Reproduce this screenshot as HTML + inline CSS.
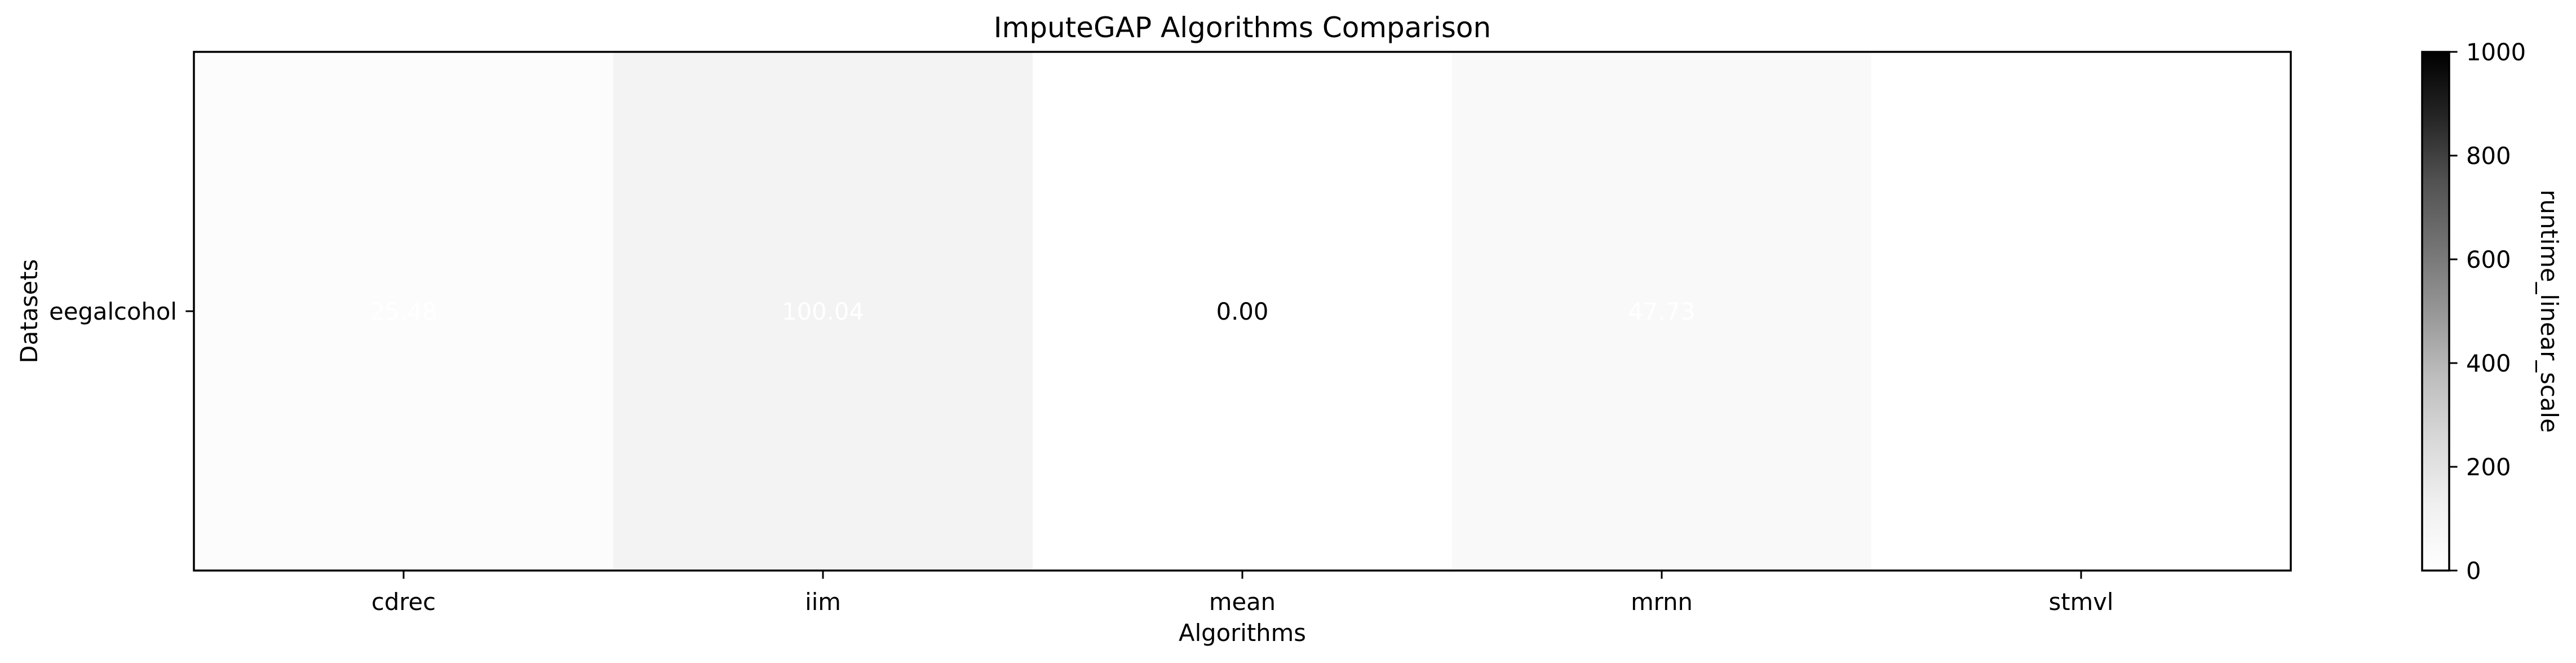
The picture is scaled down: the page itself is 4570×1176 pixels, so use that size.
<!DOCTYPE html>
<html><head><meta charset="utf-8"><style>
html,body{margin:0;padding:0;background:#fff;}
svg{display:block;font-family:"DejaVu Sans","Liberation Sans",sans-serif;}
</style></head><body>
<svg id="chart" width="4570" height="1176" viewBox="0 0 4570 1176" xmlns="http://www.w3.org/2000/svg">
<defs>
<linearGradient id="greys" x1="0" y1="1" x2="0" y2="0">
<stop offset="0" stop-color="#ffffff"/><stop offset="0.125" stop-color="#f0f0f0"/><stop offset="0.25" stop-color="#d9d9d9"/><stop offset="0.375" stop-color="#bdbdbd"/><stop offset="0.5" stop-color="#969696"/><stop offset="0.625" stop-color="#737373"/><stop offset="0.75" stop-color="#525252"/><stop offset="0.875" stop-color="#252525"/><stop offset="1" stop-color="#000000"/>
</linearGradient>
</defs>
<text x="2204" y="66" font-size="50" text-anchor="middle">ImputeGAP Algorithms Comparison</text>
<g id="cells"></g>
<g id="xticks"></g>
<g id="yticks"></g>
<rect x="344" y="92" width="3720" height="920" fill="none" stroke="#000" stroke-width="3.5"/>
<text x="2204" y="1137" font-size="41.7" text-anchor="middle">Algorithms</text>
<text transform="translate(66,552) rotate(-90)" font-size="41.7" text-anchor="middle">Datasets</text>
<rect x="4297" y="92" width="48" height="920" fill="url(#greys)" stroke="#000" stroke-width="3.5"/>
<g id="cbticks"></g>
<text transform="translate(4508,552) rotate(90)" font-size="41.7" text-anchor="middle">runtime_linear_scale</text>
</svg>
<script>
const algorithms = ["cdrec","iim","mean","mrnn","stmvl"];
const datasets = ["eegalcohol"];
const runtimes = [25.48, 100.04, 0.00, 47.73, null];
const cbTicks = [0,200,400,600,800,1000];
const vmin = 0, vmax = 1000;

const X0 = 344, X1 = 4064, Y0 = 92, Y1 = 1012;
const svgNS = "http://www.w3.org/2000/svg";
const colW = (X1 - X0) / algorithms.length;
const rowH = (Y1 - Y0) / datasets.length;
function xPos(i){ return X0 + i * colW; }
function yPos(j){ return Y0 + j * rowH; }
function cbY(v){ return Y1 - (v - vmin) / (vmax - vmin) * (Y1 - Y0); }
const stops = [255,240,217,189,150,115,82,37,0];
function grey(v){
  const t = Math.max(0, Math.min(1, (v - vmin) / (vmax - vmin))) * 8;
  const i = Math.min(7, Math.floor(t)), f = t - i;
  const g = Math.round(stops[i] + (stops[i+1] - stops[i]) * f);
  return "rgb(" + g + "," + g + "," + g + ")";
}
function mk(tag, attrs, parent){
  const el = document.createElementNS(svgNS, tag);
  for (const k in attrs) el.setAttribute(k, attrs[k]);
  parent.appendChild(el);
  return el;
}
const cells = document.getElementById("cells");
datasets.forEach((d, j) => {
  runtimes.forEach((v, i) => {
    const r = mk("rect", {x: xPos(i), y: yPos(j), width: colW + 0.5, height: rowH, fill: v === null ? "#ffffff" : grey(v)}, cells);
    
    
    if (v !== null) {
      const t = mk("text", {x: xPos(i) + colW/2, y: yPos(j) + rowH/2 + 15, "font-size": 41.7, "text-anchor": "middle", fill: v > 0.001 ? "#ffffff" : "#000000"}, cells);
      t.textContent = v.toFixed(2);
      
      
    }
  });
});
const xt = document.getElementById("xticks");
algorithms.forEach((a, i) => {
  const cx = xPos(i) + colW/2;
  const l = mk("line", {x1: cx, x2: cx, y1: Y1, y2: Y1 + 14.6, stroke: "#000", "stroke-width": 3}, xt);
  
  
  const t = mk("text", {x: cx, y: Y1 + 70, "font-size": 41.7, "text-anchor": "middle"}, xt);
  t.textContent = a;
  
  
});
const yt = document.getElementById("yticks");
datasets.forEach((d, j) => {
  const cy = yPos(j) + rowH/2;
  const l = mk("line", {x1: X0 - 14.6, x2: X0, y1: cy, y2: cy, stroke: "#000", "stroke-width": 3}, yt);
  
  
  const t = mk("text", {x: X0 - 30, y: cy + 15, "font-size": 41.7, "text-anchor": "end"}, yt);
  t.textContent = d;
  
  
});
const cb = document.getElementById("cbticks");
cbTicks.forEach(v => {
  const y = cbY(v);
  const l = mk("line", {x1: 4345, x2: 4359.6, y1: y, y2: y, stroke: "#000", "stroke-width": 3}, cb);
  
  
  const t = mk("text", {x: 4375, y: y + 15, "font-size": 41.7}, cb);
  t.textContent = String(v);
  
  
});
</script>
</body></html>
